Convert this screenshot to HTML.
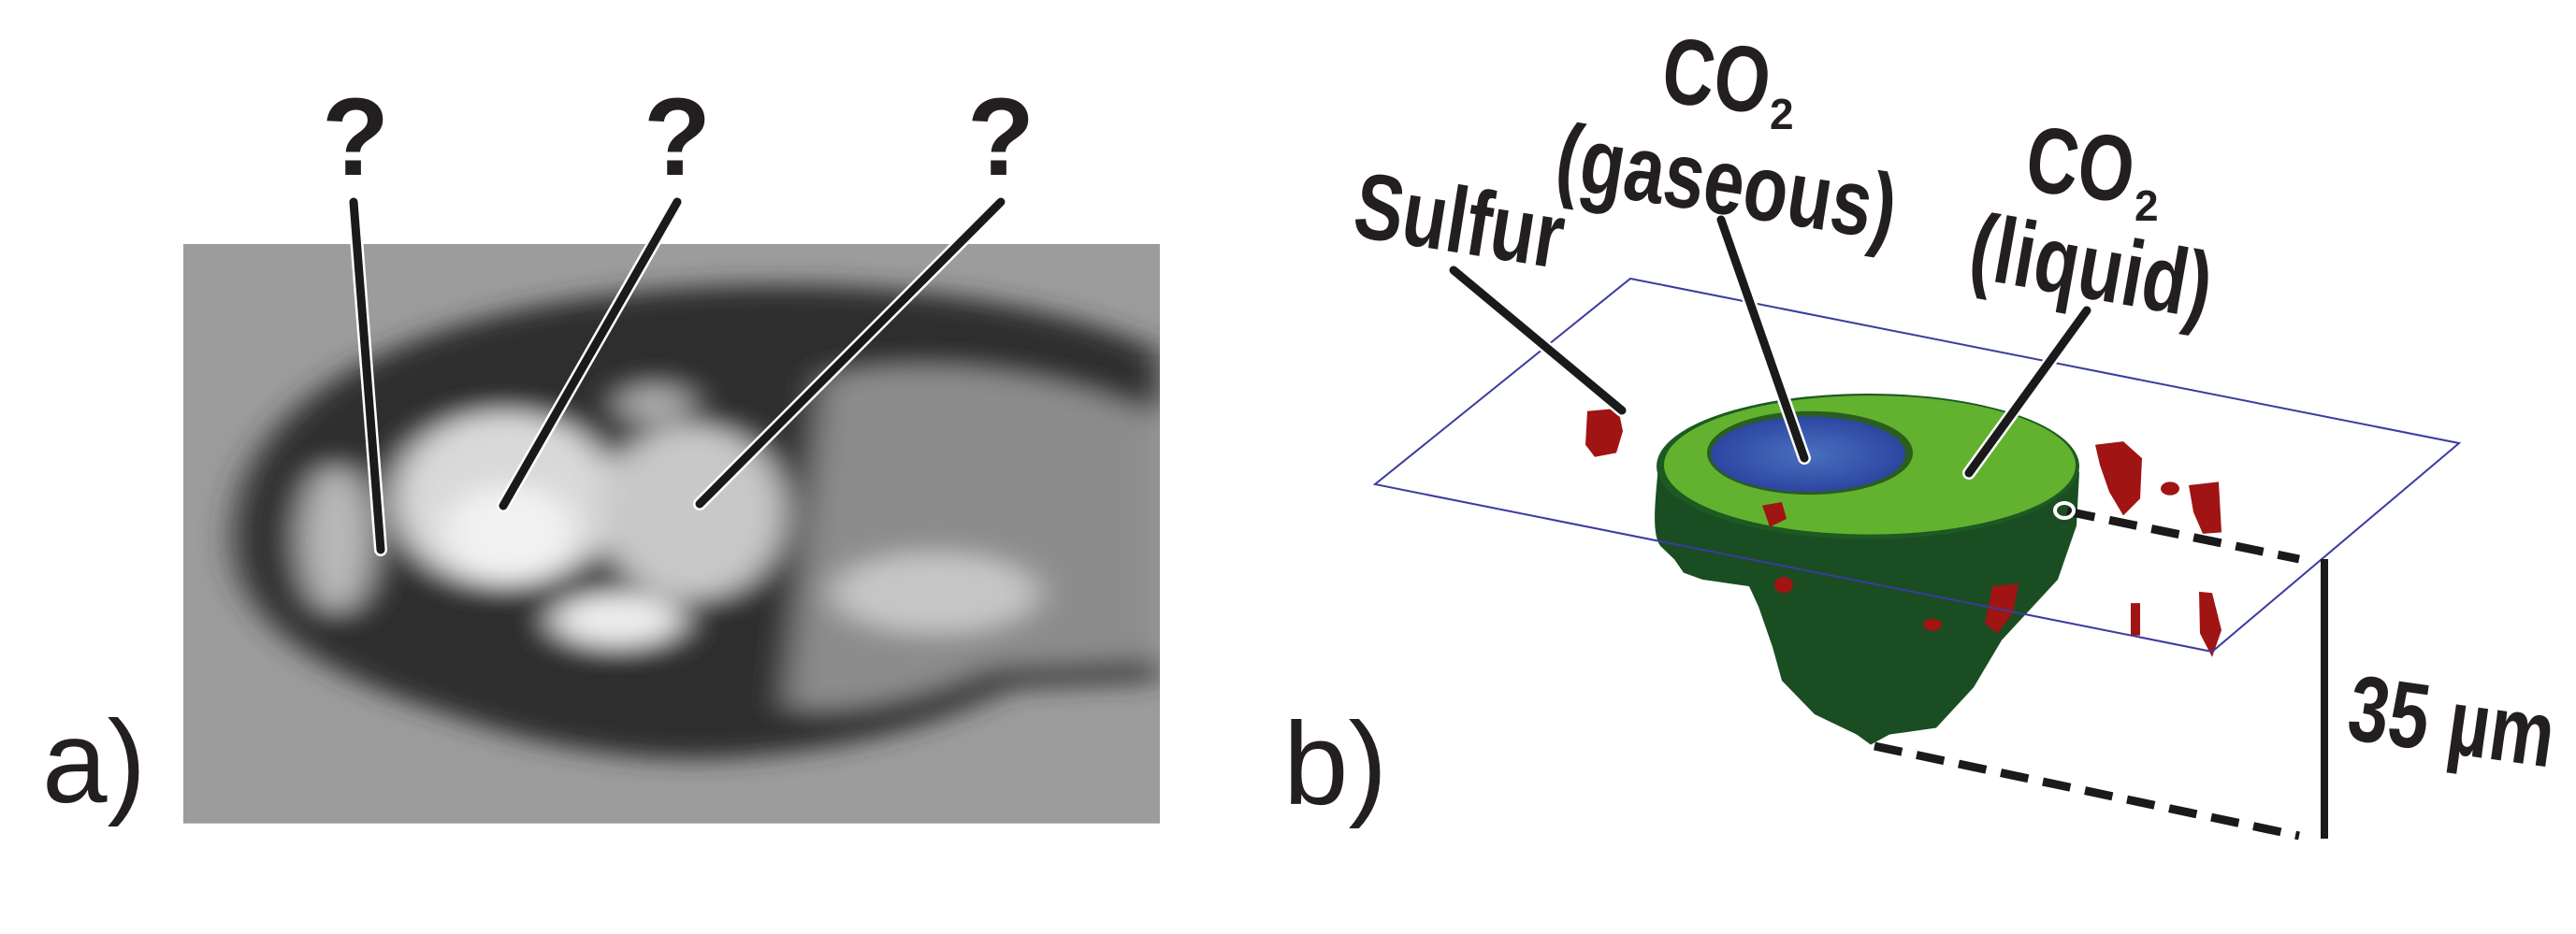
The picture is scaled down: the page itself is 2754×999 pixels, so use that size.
<!DOCTYPE html>
<html><head><meta charset="utf-8"><style>
html,body{margin:0;padding:0;background:#fff;overflow:hidden;}
svg{display:block;}
text{font-family:"Liberation Sans",Arial,sans-serif;fill:#231f20;}
</style></head><body>
<svg width="2754" height="999" viewBox="0 0 2754 999" xmlns="http://www.w3.org/2000/svg">
<defs>
<filter id="b1" x="-20%" y="-20%" width="140%" height="140%"><feGaussianBlur stdDeviation="18"/></filter>
<clipPath id="pc"><rect x="196" y="362" width="1044" height="860"/></clipPath>
<radialGradient id="gb" cx="0.5" cy="0.5" r="0.5"><stop offset="0" stop-color="#4a6fc0"/><stop offset="1" stop-color="#2c46a0"/></radialGradient>
</defs>
<g transform="scale(1,0.7208)">
<g clip-path="url(#pc)">
<rect x="196" y="362" width="1044" height="860" fill="#9c9c9c"/>
<g filter="url(#b1)">
<path d="M250 800 C250 600 420 480 640 440 C850 400 1100 430 1240 520 L1240 1010 L1080 1020 C1000 1080 900 1110 820 1120 C700 1140 580 1110 480 1060 C340 1000 250 920 250 800Z" fill="#2e2e2e"/>
<path d="M880 560 C1000 520 1150 560 1240 620 L1240 980 L1060 990 C980 1040 900 1060 840 1050Z" fill="#8c8c8c"/>
<ellipse cx="360" cy="800" rx="40" ry="110" fill="#b8b8b8"/>
<ellipse cx="540" cy="740" rx="120" ry="130" fill="#d9d9d9"/>
<ellipse cx="545" cy="790" rx="70" ry="70" fill="#f2f2f2"/>
<ellipse cx="740" cy="760" rx="100" ry="130" fill="#c8c8c8"/>
<ellipse cx="700" cy="600" rx="40" ry="30" fill="#aaa"/>
<ellipse cx="660" cy="920" rx="70" ry="40" fill="#ececec"/>
<ellipse cx="1000" cy="880" rx="110" ry="60" fill="#c6c6c6"/>
</g>
</g>
<path d="M1773 690 C1770 740 1765 790 1775 810 L1790 830 L1800 850 L1820 860 L1870 870 L1880 900 L1895 960 L1905 1010 L1940 1060 L1985 1090 L2000 1105 L2020 1090 L2070 1080 L2110 1020 L2140 950 L2200 860 L2220 780 L2223 700 Z" fill="#1b4d22"/>
<ellipse cx="1997" cy="692" rx="226" ry="108" fill="#1c5a22"/>
<ellipse cx="1999" cy="690" rx="220" ry="103" fill="#62b22f"/>
<ellipse cx="1935" cy="672" rx="110" ry="62" fill="#2a5d1f"/>
<ellipse cx="1933" cy="674" rx="104" ry="56" fill="url(#gb)"/>
<g fill="#a01414">
<path d="M1697 610 L1730 606 L1735 640 L1728 672 L1705 678 L1695 660Z"/>
<path d="M2240 660 L2270 655 L2290 680 L2288 740 L2270 765 L2255 730 L2245 690Z"/>
<path d="M2340 720 L2372 715 L2375 790 L2355 792 L2345 760Z"/>
<ellipse cx="2320" cy="725" rx="10" ry="10"/>
<path d="M1884 750 L1905 745 L1910 770 L1892 782Z"/>
<path d="M2130 870 L2158 866 L2152 910 L2135 940 L2122 925Z"/>
<path d="M2351 878 L2365 880 L2375 935 L2365 975 L2352 940Z"/>
<rect x="2278" y="895" width="10" height="48"/>
<ellipse cx="2066" cy="927" rx="10" ry="9"/>
<ellipse cx="1907" cy="868" rx="10" ry="12"/>
</g>
</g>
<g stroke-linecap="round" fill="none">
<line x1="378" y1="216" x2="407" y2="588" stroke="#fff" stroke-width="14"/>
<line x1="378" y1="216" x2="407" y2="588" stroke="#1a1a1a" stroke-width="9"/>
<line x1="724" y1="216" x2="538" y2="541" stroke="#fff" stroke-width="14"/>
<line x1="724" y1="216" x2="538" y2="541" stroke="#1a1a1a" stroke-width="9"/>
<line x1="1070" y1="216" x2="748" y2="539" stroke="#fff" stroke-width="14"/>
<line x1="1070" y1="216" x2="748" y2="539" stroke="#1a1a1a" stroke-width="9"/>
</g>
<g font-weight="bold" font-size="118" text-anchor="middle">
<text x="380" y="187">?</text><text x="724" y="187">?</text><text x="1070" y="187">?</text>
</g>
<text x="45" y="858" font-size="125">a)</text>

<polygon points="1743,298 2629,474 2365,697 1470,518" fill="none" stroke="#3b3ba0" stroke-width="2"/>
<g stroke="#1a1a1a" stroke-width="9" fill="none">
<line x1="2210" y1="547" x2="2458" y2="598" stroke-dasharray="30 16"/>
<line x1="2004" y1="798" x2="2458" y2="894" stroke-dasharray="30 16"/>
<line x1="2485" y1="598" x2="2485" y2="897" stroke-width="8"/>
</g>
<ellipse cx="2207" cy="546" rx="10" ry="8" fill="none" stroke="#fff" stroke-width="4"/>
<g stroke-linecap="round" fill="none">
<line x1="1554" y1="289" x2="1734" y2="439" stroke="#fff" stroke-width="14"/>
<line x1="1554" y1="289" x2="1734" y2="439" stroke="#1a1a1a" stroke-width="9"/>
<line x1="1840" y1="235" x2="1929" y2="490" stroke="#fff" stroke-width="14"/>
<line x1="1840" y1="235" x2="1929" y2="490" stroke="#1a1a1a" stroke-width="9"/>
<line x1="2231" y1="332" x2="2105" y2="506" stroke="#fff" stroke-width="14"/>
<line x1="2231" y1="332" x2="2105" y2="506" stroke="#1a1a1a" stroke-width="9"/>
</g>
<g font-weight="bold">
<text transform="translate(1444,252) rotate(9)" font-size="100" textLength="225" lengthAdjust="spacingAndGlyphs">Sulfur</text>
<text transform="translate(1774,108) rotate(7)" font-size="100" textLength="115" lengthAdjust="spacingAndGlyphs">CO</text>
<text transform="translate(1892,138)" font-size="46">2</text>
<text transform="translate(1660,200) rotate(9)" font-size="100" textLength="366" lengthAdjust="spacingAndGlyphs">(gaseous)</text>
<text transform="translate(2163,203) rotate(7)" font-size="100" textLength="115" lengthAdjust="spacingAndGlyphs">CO</text>
<text transform="translate(2282,236)" font-size="46">2</text>
<text transform="translate(2102,296) rotate(10)" font-size="100" textLength="260" lengthAdjust="spacingAndGlyphs">(liquid)</text>
<text transform="translate(2507,790) rotate(8)" font-size="100" textLength="221" lengthAdjust="spacingAndGlyphs">35 µm</text>
</g>
<text x="1372" y="860" font-size="125">b)</text>
</svg>
</body></html>
